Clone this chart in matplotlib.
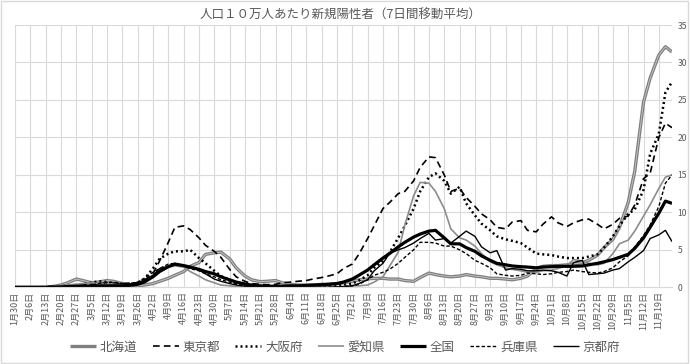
import matplotlib
matplotlib.use('Agg')
import matplotlib.pyplot as plt
from matplotlib.patches import Rectangle
import pandas as pd

plt.rcParams['font.family'] = ['Noto Sans CJK JP', 'DejaVu Sans']

# sample days: every tick date (weekly from 1/30) and 3 days after it, plus the last day 11/25
start = pd.Timestamp('2020-01-30')
days = []
for w in range(43):
    days += [7 * w, 7 * w + 3]
days.append(300)

hokkaido = [
    0, 0, 0, 0, 0, 0.1, 0.3, 0.6, 1.1, 0.9,
    0.6, 0.7, 0.9, 0.8, 0.5, 0.3, 0.2, 0.3, 0.5, 0.8,
    1.2, 1.6, 2.1, 2.8, 3.3, 4.4, 4.6, 4.7, 3.8, 2.6,
    1.5, 1.0, 0.75, 0.8, 0.9, 0.6, 0.4, 0.3, 0.3, 0.3,
    0.4, 0.4, 0.5, 0.6, 0.8, 1.0, 1.1, 1.2, 1.2, 1.1,
    1.1, 0.9, 0.8, 1.3, 1.9, 1.7, 1.5, 1.4, 1.5, 1.7,
    1.5, 1.4, 1.2, 1.2, 1.1, 1.0, 1.2, 1.5, 2.5, 2.8,
    2.9, 2.9, 3.0, 3.1, 3.3, 3.6, 4.3, 5.3, 6.4, 8.0,
    11.3, 15.5, 24.7, 27.9, 31.0, 32.1, 31.4]
tokyo = [
    0, 0, 0.05, 0.05, 0.1, 0.15, 0.2, 0.3, 0.35, 0.4,
    0.45, 0.5, 0.6, 0.55, 0.5, 0.55, 0.6, 0.9, 1.8, 3.5,
    6.0, 8.0, 8.2, 7.7, 6.6, 5.6, 4.8, 4.0, 2.4, 1.4,
    0.8, 0.5, 0.4, 0.35, 0.4, 0.6, 0.7, 0.8, 0.9, 1.1,
    1.3, 1.5, 1.8, 2.5, 3.1, 4.4, 6.5, 8.2, 10.5, 11.3,
    12.5, 12.8, 14.2, 16.0, 17.4, 17.3, 15.0, 12.8, 13.2, 12.0,
    10.8, 9.8, 9.0, 8.0, 7.8, 8.7, 8.9, 7.6, 7.4, 8.4,
    9.4, 8.6, 8.1, 8.6, 9.0, 9.1, 8.4, 7.8, 8.4, 9.2,
    9.5, 11.0, 14.5, 15.2, 20.0, 21.9, 21.3]
osaka = [
    0, 0, 0, 0, 0, 0, 0.05, 0.1, 0.2, 0.5,
    0.6, 0.8, 0.7, 0.5, 0.4, 0.3, 0.6, 1.1, 2.5, 3.8,
    4.5, 4.8, 4.8, 5.0, 3.9, 3.2, 2.2, 1.5, 1.0, 0.6,
    0.4, 0.2, 0.1, 0.1, 0.05, 0.05, 0.05, 0.1, 0.1, 0.1,
    0.2, 0.2, 0.2, 0.3, 0.5, 0.9, 1.6, 2.6, 3.5, 4.6,
    6.6, 8.2, 10.5, 12.8, 14.7, 15.2, 14.2, 12.5, 13.4, 11.2,
    9.6, 8.5, 7.6, 6.8, 6.4, 6.2, 5.9, 5.3, 4.5, 4.4,
    4.3, 4.1, 3.9, 3.9, 3.9, 4.1, 4.4, 5.3, 6.8, 8.2,
    9.8, 10.4, 13.0, 17.8, 20.5, 26.0, 27.4]
aichi = [
    0, 0, 0, 0, 0.05, 0.1, 0.2, 0.3, 0.4, 0.5,
    0.6, 0.5, 0.5, 0.4, 0.3, 0.3, 0.4, 0.6, 1.6, 2.3,
    2.7, 2.85, 2.7, 2.1, 1.5, 1.0, 0.6, 0.3, 0.2, 0.1,
    0.05, 0, 0, 0, 0, 0, 0, 0, 0, 0,
    0, 0, 0.05, 0.1, 0.2, 0.2, 0.3, 0.7, 1.4, 2.8,
    4.7, 8.3, 12.2, 14.0, 13.9, 12.8, 10.5, 7.8, 6.6, 6.3,
    5.5, 4.5, 3.4, 3.0, 2.6, 2.4, 2.2, 2.0, 2.0, 2.2,
    2.3, 2.5, 2.9, 3.7, 3.5, 3.2, 3.0, 3.2, 4.5, 5.8,
    6.3, 7.5, 9.5, 11.0, 13.2, 14.7, 15.0]
zenkoku = [
    0, 0, 0, 0, 0, 0.02, 0.05, 0.1, 0.15, 0.15,
    0.2, 0.2, 0.2, 0.2, 0.2, 0.25, 0.4, 0.7, 1.4, 2.1,
    2.75, 3.1, 2.9, 2.7, 2.4, 2.1, 1.8, 1.4, 1.0, 0.7,
    0.45, 0.3, 0.2, 0.15, 0.15, 0.15, 0.2, 0.2, 0.25, 0.3,
    0.35, 0.4, 0.5, 0.7, 1.1, 1.6, 2.3, 3.0, 3.9, 4.5,
    5.4, 6.0, 6.7, 7.1, 7.5, 7.6, 6.6, 5.8, 5.8, 5.3,
    4.8, 4.2, 3.6, 3.2, 3.0, 2.85, 2.75, 2.7, 2.6, 2.7,
    2.75, 2.8, 2.8, 2.8, 2.85, 3.0, 3.2, 3.4, 3.7, 4.0,
    4.4, 5.2, 6.6, 8.0, 9.9, 11.5, 11.2]
hyogo = [
    0, 0, 0, 0, 0, 0, 0, 0, 0, 0.05,
    0.3, 0.5, 0.6, 0.7, 0.5, 0.5, 0.7, 1.2, 2.0, 2.5,
    3.1, 3.2, 2.8, 2.5, 2.2, 1.8, 1.4, 1.0, 0.7, 0.4,
    0.2, 0.1, 0.05, 0, 0, 0, 0, 0, 0, 0,
    0, 0, 0.05, 0.1, 0.2, 0.4, 1.0, 1.6, 2.0, 2.4,
    3.2, 4.0, 5.0, 6.0, 6.0, 5.9, 5.5, 5.5, 5.0, 4.5,
    3.6, 3.2, 2.6, 1.8, 1.6, 1.5, 1.6, 1.9, 1.8, 1.7,
    1.8, 2.0, 2.1, 2.3, 2.1, 2.0, 1.9, 2.1, 2.6, 3.4,
    4.2, 5.4, 6.9, 8.3, 10.8, 13.9, 15.0]
kyoto = [
    0, 0, 0, 0, 0, 0, 0, 0, 0.05, 0.1,
    0.1, 0.1, 0.15, 0.2, 0.2, 0.4, 0.6, 1.0, 1.6, 2.5,
    2.8, 3.2, 2.8, 2.6, 2.3, 1.8, 1.1, 0.8, 0.5, 0.3,
    0.15, 0.05, 0, 0, 0, 0, 0, 0, 0, 0,
    0, 0, 0.05, 0.1, 0.2, 0.5, 1.0, 2.2, 3.2, 4.5,
    5.0, 5.3, 5.9, 6.5, 7.2, 6.3, 6.5, 5.9, 6.8, 7.5,
    6.8, 5.4, 4.6, 4.9, 2.3, 2.5, 2.4, 2.2, 2.2, 2.3,
    2.2, 2.0, 1.5, 3.3, 3.6, 1.7, 1.8, 1.9, 2.3, 2.5,
    3.4, 4.0, 4.9, 6.5, 7.0, 7.6, 6.1]

names = ['北海道', '東京都', '大阪府', '愛知県', '全国', '兵庫県', '京都府']
values = [hokkaido, tokyo, osaka, aichi, zenkoku, hyogo, kyoto]
styles = [
    dict(color='#7f7f7f', lw=2.4, ls='-'),
    dict(color='black', lw=1.2, ls=(0, (4, 2.5))),
    dict(color='black', lw=1.8, ls=(0, (0.8, 1.2))),
    dict(color='#8c8c8c', lw=1.2, ls='-'),
    dict(color='black', lw=2.3, ls='-'),
    dict(color='black', lw=1.0, ls=(0, (2.5, 1.5))),
    dict(color='black', lw=1.0, ls='-'),
]

tick_days = list(range(0, 295, 7))
tick_labels = []
for d in tick_days:
    t = start + pd.Timedelta(days=d)
    tick_labels.append(f'{t.month}月{t.day}日')

fig = plt.figure(figsize=(6.9, 3.64), dpi=100)
ax = fig.add_axes([15 / 690, 1 - 287.3 / 364, (672 - 15) / 690, (287.3 - 25) / 364])

handles = []
for name, v, st in zip(names, values, styles):
    line, = ax.plot(days, v, label=name, solid_capstyle='butt', **st)
    handles.append(line)
    if name == '北海道':
        # lighter core -> double-line look
        ax.plot(days, v, color='#c8c8c8', lw=0.6)

ax.set_xlim(0, 300)
ax.set_ylim(0, 35)
ax.set_xticks(tick_days)
ax.set_xticklabels(tick_labels, rotation=90)
ax.set_yticks(range(0, 36, 5))
ax.yaxis.tick_right()
ax.tick_params(axis='x', length=0, labelsize=6.5, labelcolor='#595959', pad=3)
ax.tick_params(axis='y', length=0, labelsize=6.2, labelcolor='#595959', pad=4)
ax.grid(color='#d9d9d9', lw=0.8)
ax.set_axisbelow(True)
for s in ['top', 'left', 'right']:
    ax.spines[s].set_visible(False)
ax.spines['bottom'].set_color('#d9d9d9')

fig.text(341 / 690, 1 - 15 / 364, '人口１０万人あたり新規陽性者（7日間移動平均）',
         ha='center', va='center', fontsize=9, color='#595959')

fig.legend(handles, names, loc='center', bbox_to_anchor=(345 / 690, 1 - 347 / 364),
           ncol=7, frameon=False, fontsize=9, handlelength=2.1, handletextpad=0.3,
           columnspacing=1.2, labelcolor='#595959')

fig.patches.append(Rectangle((0.002, 0.003), 0.995, 0.994, transform=fig.transFigure,
                             fill=False, ec='#d9d9d9', lw=1))

fig.savefig('out.png', dpi=100)
